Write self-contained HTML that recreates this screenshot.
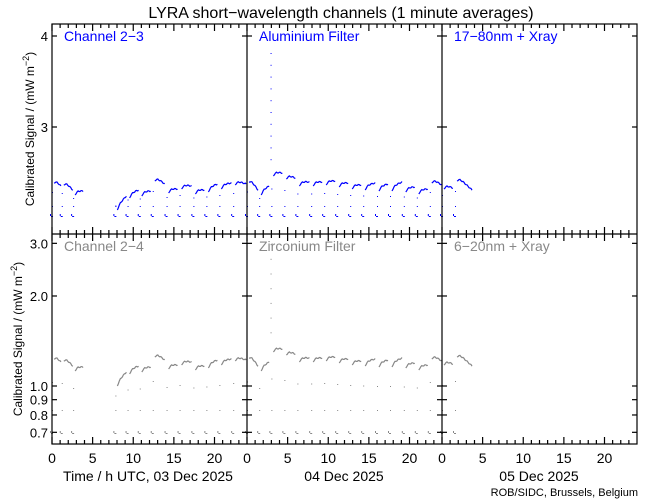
<!DOCTYPE html>
<html><head><meta charset="utf-8"><style>
body{margin:0;background:#fff;}
svg{display:block;font-family:"Liberation Sans",sans-serif;}
</style></head><body>
<svg id="s" width="650" height="500" viewBox="0 0 650 500" xmlns="http://www.w3.org/2000/svg">
<rect width="650" height="500" fill="#fff"/>
<text x="341" y="18" font-size="16" text-anchor="middle">LYRA short−wavelength channels (1 minute averages)</text>
<g id="data"></g>
<g id="axes" stroke="#000" stroke-width="1.2" fill="none"></g>
<g id="txt" font-size="13"></g>
<text x="64" y="41" font-size="14" fill="#0000ff">Channel 2−3</text>
<text x="259" y="41" font-size="14" fill="#0000ff">Aluminium Filter</text>
<text x="454" y="41" font-size="14" fill="#0000ff">17−80nm + Xray</text>
<text x="64" y="251" font-size="14" fill="#888">Channel 2−4</text>
<text x="259" y="251" font-size="14" fill="#888">Zirconium Filter</text>
<text x="454" y="251" font-size="14" fill="#888">6−20nm + Xray</text>
<text transform="translate(34,129) rotate(-90)" font-size="12" text-anchor="middle">Calibrated Signal / (mW m<tspan dy="-5" font-size="9">−2</tspan><tspan dy="5">)</tspan></text>
<text transform="translate(22,339) rotate(-90)" font-size="12" text-anchor="middle">Calibrated Signal / (mW m<tspan dy="-5" font-size="9">−2</tspan><tspan dy="5">)</tspan></text>
<text x="148" y="481" font-size="14" text-anchor="middle">Time / h UTC, 03 Dec 2025</text>
<text x="344" y="481" font-size="14" text-anchor="middle">04 Dec 2025</text>
<text x="539" y="481" font-size="14" text-anchor="middle">05 Dec 2025</text>
<text x="638" y="496" font-size="11" text-anchor="end">ROB/SIDC, Brussels, Belgium</text>
</svg>
<script>
const NS="http://www.w3.org/2000/svg";
const ax=document.getElementById('axes'),tx=document.getElementById('txt'),dg=document.getElementById('data');
function el(p,t,a,txt){const e=document.createElementNS(NS,t);for(const k in a)e.setAttribute(k,a[k]);if(txt!=null)e.textContent=txt;p.appendChild(e);return e;}
const L=52,R=637,T=24,M=234,B=444,W=195,PX=W/24;
el(ax,'rect',{x:L,y:T,width:R-L,height:B-T});
el(ax,'line',{x1:L,y1:M,x2:R,y2:M});
for(const x of [247,442])el(ax,'line',{x1:x,y1:T,x2:x,y2:B});
for(let d=0;d<3;d++)for(let h=0;h<24;h++){const x=L+d*W+h*PX;const len=h%5==0?7:4;
 for(const y of [T,M,B]){ if(y!=T)el(ax,'line',{x1:x,y1:y,x2:x,y2:y-len}); if(y!=B)el(ax,'line',{x1:x,y1:y,x2:x,y2:y+len});}
 if(h%5==0)el(tx,'text',{x:x,y:463,'text-anchor':'middle','font-size':14},String(h));}
function yt(y,lab){for(const x of [L,247,442]){el(ax,'line',{x1:x-(x==L?0:5),y1:y,x2:x+5,y2:y});}el(ax,'line',{x1:R-5,y1:y,x2:R,y2:y});if(lab)el(tx,'text',{x:48,y:y+5,'text-anchor':'end'},lab);}
yt(36,'4');yt(127,'3');
const lg=v=>386-299*Math.log10(v);
yt(lg(3),'3.0');yt(lg(2),'2.0');yt(lg(1),'1.0');yt(lg(.9),'0.9');yt(lg(.8),'0.8');yt(lg(.7),'0.7');
const days=[
 [[0,178,186,1.2],[1.2,180,190,1.4],[2.6,190,191,1.3],[7.8,205,196,1.35],[9.3,193,190,1.4],[10.8,191,191,1.45],[12.4,176,184,1.5],[14.1,188,189,1.45],[15.7,184,186,1.5],[17.4,189,190,1.45],[19.0,187,184,1.45],[20.6,184,183,1.5],[22.3,180,184,1.6]],
 [[0,177,190,1.4],[1.5,190,186,1.3],[3.0,171,173,1.45],[4.6,174,178,1.45],[6.2,181,182,1.5],[7.9,181,182,1.45],[9.5,180,181,1.45],[11.1,182,183,1.45],[12.7,184,185,1.45],[14.3,185,183,1.5],[16.0,186,184,1.45],[17.6,186,182,1.5],[19.3,187,187,1.45],[20.9,189,189,1.45],[22.5,178,185,1.5]],
 [[0,184,188,1.4],[1.6,176,190,2.1]]
];
function draw(off,color,dipY,midY,top){
 let s='';
 days.forEach((orb,d)=>{
  orb.forEach(([h,a,b,len],k)=>{
   const x0=L+d*W+h*PX+2,n=Math.max(4,Math.round((len-0.3)*PX));
   let pts=[];
   for(let i=0;i<=n;i++){const f=i/n;let y=a+(b-a)*f+5*Math.exp(-i/2)+Math.sin(i*1.7)*0.6; pts.push((x0+i).toFixed(1)+','+(y+off).toFixed(1));}
   s+=`<polyline points="${pts.join(' ')}" fill="none" stroke="${color}" stroke-width="1.2"/>`;
   const xe=x0-2;
   s+=`<rect x="${xe}" y="${(a+off+midY)/2}" width="1" height="1" fill="${color}"/>`;
   s+=`<rect x="${xe}" y="${midY}" width="1" height="1" fill="${color}"/>`;
   s+=`<rect x="${xe-1}" y="${dipY}" width="2" height="1" fill="${color}"/><rect x="${xe-2}" y="${dipY-2}" width="1" height="2" fill="${color}"/>`;
  });
 });
 const xs=L+W+2.9*PX;
 for(let i=0;i<10;i++){const y=top+(171+off-top)*i/10; if(y>=(off?M:T))s+=`<rect x="${xs}" y="${y}" width="1" height="1" fill="${color}"/>`;}
 dg.insertAdjacentHTML('beforeend',s);
}
draw(0,'#0000ff',216,206,53);
draw(176,'#888',433,410,200);
</script>
</body></html>
